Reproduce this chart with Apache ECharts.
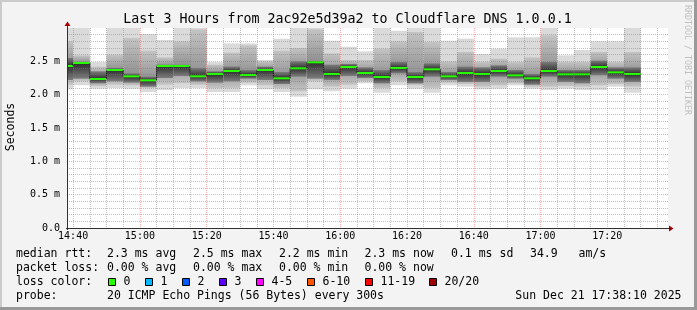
<!DOCTYPE html>
<html><head><meta charset="utf-8">
<script src="https://cdn.jsdelivr.net/npm/echarts@6/dist/echarts.min.js"></script>
<style>html,body{margin:0;padding:0;background:#f3f3f3;}#c{width:697px;height:310px;}</style>
</head><body><div id="c"></div>
<script>
// ---- data (times = end of each 5-minute step, values in ms) ----
const graphStart = "14:38:10";
const graphEnd = "17:38:10";
const colEnd = ["14:40","14:45","14:50","14:55","15:00","15:05","15:10","15:15","15:20","15:25",
  "15:30","15:35","15:40","15:45","15:50","15:55","16:00","16:05","16:10","16:15",
  "16:20","16:25","16:30","16:35","16:40","16:45","16:50","16:55","17:00","17:05",
  "17:10","17:15","17:20","17:25","17:30"];
const median = [2.43,2.475,2.235,2.37,2.275,2.215,2.43,2.43,2.275,2.31,2.355,2.295,2.37,2.245,2.395,2.485,2.31,2.415,2.325,2.265,2.40,2.265,2.38,2.275,2.325,2.31,2.355,2.29,2.245,2.355,2.305,2.305,2.415,2.335,2.31];
const pingMin = [2.08,2.14,2.09,2.10,2.09,2.04,2.07,2.10,2.10,2.04,2.04,2.14,2.08,2.04,1.97,2.08,2.05,2.09,2.17,2.03,2.14,2.09,2.03,2.14,2.12,2.08,2.09,2.14,2.09,2.07,2.09,2.07,2.07,2.12,2.03];
const midLo   = [2.15,2.20,2.13,2.15,2.14,2.10,2.15,2.17,2.15,2.10,2.10,2.18,2.14,2.10,2.05,2.20,2.12,2.15,2.20,2.10,2.20,2.14,2.10,2.18,2.16,2.12,2.14,2.17,2.12,2.12,2.13,2.12,2.14,2.16,2.12];
const darkLo  = [2.22,2.24,2.17,2.20,2.18,2.12,2.25,2.28,2.20,2.18,2.20,2.24,2.22,2.16,2.27,2.24,2.22,2.28,2.25,2.17,2.32,2.17,2.27,2.22,2.19,2.19,2.27,2.24,2.15,2.27,2.19,2.17,2.29,2.24,2.19];
const darkHi  = [2.55,2.47,2.35,2.40,2.32,2.27,2.45,2.45,2.40,2.35,2.42,2.37,2.42,2.34,2.50,2.50,2.45,2.46,2.41,2.37,2.49,2.34,2.47,2.34,2.42,2.41,2.44,2.37,2.31,2.49,2.37,2.37,2.51,2.41,2.41];
const midHi   = [2.80,2.59,2.42,2.60,2.85,2.66,2.56,2.80,2.98,2.45,2.63,2.74,2.50,2.66,2.70,2.98,2.62,2.52,2.52,2.69,2.80,2.94,2.79,2.50,2.64,2.49,2.54,2.49,2.56,2.89,2.49,2.49,2.64,2.49,2.64];
const pingMax = [3.0,3.0,2.49,3.0,3.0,2.91,2.82,3.0,3.0,2.49,2.77,2.77,2.52,2.84,3.0,3.0,2.81,2.72,2.65,3.0,2.96,3.0,3.0,2.81,2.84,2.61,2.69,2.86,2.86,3.0,2.59,2.67,2.80,2.80,3.0];
const xMajorLabels = ["14:40","15:00","15:20","15:40","16:00","16:20","16:40","17:00","17:20"];
const stepMinutes = 5;

const lossColors = ["#26ff00","#00b8ff","#0059ff","#5e00ff","#ff00fe","#ff5500","#ff0000","#a10000"];
const lossLabels = ["0","1","2","3","4-5","6-10","11-19","20/20"];

const rttLegend = ["2.3 ms avg","2.5 ms max","2.2 ms min","2.3 ms now","0.1 ms sd"];
const lossLegend = ["0.00 % avg","0.00 % max","0.00 % min","0.00 % now"];

// ---- helpers ----
function toMin(s){const p=s.split(':').map(Number);return p[0]*60+p[1]+(p[2]||0)/60;}
function fmt(m){const h=Math.floor(m/60+1e-9),mm=Math.round(m-h*60);return h+':'+String(mm).padStart(2,'0');}
const xMin = toMin(graphStart), xMax = toMin(graphEnd);
const majorVals = xMajorLabels.map(toMin);
const minorVals = [];
for (let t = toMin(colEnd[0]); t < xMax; t += stepMinutes) { if (majorVals.indexOf(t) < 0) minorVals.push(t); }

const data = colEnd.map((t,i)=>[toMin(t), pingMin[i], midLo[i], darkLo[i], darkHi[i], midHi[i], pingMax[i], median[i]]);

const FONT = 'DejaVu Sans Mono';
const chart = echarts.init(document.getElementById('c'), null, {renderer:'canvas'});

const legendY = [254.5, 268.5, 282.5, 296.5];
const colX = [107, 193, 279, 364.5, 451];
const ARROW = '#a00000';
const graphics = [
  {type:'rect', shape:{x:0,y:0,width:697,height:2}, style:{fill:'#cbcbcb'}, silent:true},
  {type:'rect', shape:{x:0,y:0,width:2,height:310}, style:{fill:'#cbcbcb'}, silent:true},
  {type:'rect', shape:{x:0,y:307,width:697,height:3}, style:{fill:'#999999'}, silent:true},
  {type:'rect', shape:{x:694,y:0,width:3,height:310}, style:{fill:'#999999'}, silent:true},
  {type:'line', z:20, shape:{x1:67.5,y1:230,x2:67.5,y2:25}, style:{stroke:'#303030', lineWidth:1}},
  {type:'line', z:20, shape:{x1:66,y1:228.5,x2:670,y2:228.5}, style:{stroke:'#303030', lineWidth:1}},
  {type:'polygon', z:21, shape:{points:[[64.5,26],[67.5,21.5],[70.5,26]]}, style:{fill:ARROW}},
  {type:'polygon', z:21, shape:{points:[[669,225.5],[673.5,228.5],[669,231.5]]}, style:{fill:ARROW}},
  {type:'text', x:347.5, y:19.5, style:{text:'Last 3 Hours from 2ac92e5d39a2 to Cloudflare DNS 1.0.0.1', font:'13.3px '+FONT, fill:'#000', align:'center', verticalAlign:'middle'}},
  {type:'text', x:687, y:60, rotation:-Math.PI/2, style:{text:'RRDTOOL / TOBI OETIKER', font:'8.3px '+FONT, fill:'#c0c0c0', align:'center', verticalAlign:'middle'}},
  {type:'text', x:11.5, y:127, rotation:Math.PI/2, style:{text:'Seconds', font:'11.5px '+FONT, fill:'#000', align:'center', verticalAlign:'middle'}},
  {type:'text', x:16, y:legendY[0], style:{text:'median rtt:', font:'11.5px '+FONT, fill:'#000', verticalAlign:'middle'}},
  {type:'text', x:16, y:legendY[1], style:{text:'packet loss:', font:'11.5px '+FONT, fill:'#000', verticalAlign:'middle'}},
  {type:'text', x:16, y:legendY[2], style:{text:'loss color:', font:'11.5px '+FONT, fill:'#000', verticalAlign:'middle'}},
  {type:'text', x:16, y:legendY[3], style:{text:'probe:', font:'11.5px '+FONT, fill:'#000', verticalAlign:'middle'}},
  {type:'text', x:107, y:legendY[3], style:{text:'20 ICMP Echo Pings (56 Bytes) every 300s', font:'11.5px '+FONT, fill:'#000', verticalAlign:'middle'}},
  {type:'text', x:681.5, y:legendY[3], style:{text:'Sun Dec 21 17:38:10 2025', font:'11.5px '+FONT, fill:'#000', align:'right', verticalAlign:'middle'}},
  {type:'text', x:530, y:legendY[0], style:{text:'34.9', font:'11.5px '+FONT, fill:'#000', verticalAlign:'middle'}},
  {type:'text', x:578.5, y:legendY[0], style:{text:'am/s', font:'11.5px '+FONT, fill:'#000', verticalAlign:'middle'}}
];
rttLegend.forEach((s,i)=>graphics.push({type:'text', x:colX[i], y:legendY[0], style:{text:s, font:'11.5px '+FONT, fill:'#000', verticalAlign:'middle'}}));
lossLegend.forEach((s,i)=>graphics.push({type:'text', x:colX[i], y:legendY[1], style:{text:s, font:'11.5px '+FONT, fill:'#000', verticalAlign:'middle'}}));
const boxX = [108.5, 145.5, 182.5, 219.5, 256.5, 307.5, 365.5, 429.5];
lossColors.forEach((c,i)=>{
  graphics.push({type:'rect', shape:{x:boxX[i], y:278.5, width:7, height:7}, style:{fill:c, stroke:'#000', lineWidth:1}});
  graphics.push({type:'text', x:boxX[i]+15, y:legendY[2], style:{text:lossLabels[i], font:'11.5px '+FONT, fill:'#000', verticalAlign:'middle'}});
});

const MINOR = 'rgba(120,120,120,0.45)';
const MAJOR = 'rgba(255,40,40,0.38)';
function grad(topVal, botVal, midVal, edge, centre){
  let f = (topVal - midVal) / (topVal - botVal);
  f = Math.max(0.02, Math.min(0.98, isFinite(f) ? f : 0.5));
  return new echarts.graphic.LinearGradient(0,0,0,1,[
    {offset:0, color:edge},{offset:f, color:centre},{offset:1, color:edge}]);
}
const option = {
  backgroundColor:'#f3f3f3',
  animation:false,
  grid:{left:67, right:29, top:28, bottom:82, show:true, backgroundColor:'#ffffff', borderWidth:0},
  xAxis:[{
    type:'value', min:xMin, max:xMax, gridIndex:0, position:'bottom', z:10,
    axisLine:{show:false, onZero:false},
    axisTick:{show:false, customValues:majorVals},
    axisLabel:{show:true, customValues:majorVals, formatter:v=>fmt(v), color:'#000', fontFamily:FONT, fontSize:10, margin:3},
    splitLine:{show:true, lineStyle:{color:MAJOR, type:[1,1], width:1}}
  },{
    type:'value', min:xMin, max:xMax, gridIndex:0, position:'top', z:9,
    axisLine:{show:false}, axisTick:{show:false, customValues:minorVals}, axisLabel:{show:false, customValues:minorVals},
    splitLine:{show:true, lineStyle:{color:MINOR, type:[1,1], width:1}}
  }],
  yAxis:{
    type:'value', min:0, max:3.0, interval:0.5, z:10,
    axisLine:{show:false},
    axisTick:{show:false},
    axisLabel:{color:'#000', fontFamily:FONT, fontSize:10, margin:7, showMaxLabel:false, formatter:v=>v===0?'0.0':v.toFixed(1)+' m'},
    splitLine:{show:true, showMaxLine:false, lineStyle:{color:MAJOR, type:[1,1], width:1}},
    minorTick:{show:false, splitNumber:5},
    minorSplitLine:{show:true, lineStyle:{color:MINOR, type:[1,1], width:1}}
  },
  graphic:graphics,
  series:[{
    type:'custom', xAxisIndex:0, yAxisIndex:0, clip:true, z:2,
    data:data,
    renderItem:function(params, api){
      const cs = params.coordSys;
      const tEnd = api.value(0);
      const x0 = Math.max(api.coord([tEnd-stepMinutes,0])[0], cs.x);
      const x1 = api.coord([tEnd,0])[0];
      const Y = v=>api.coord([tEnd, Math.min(v,3.0)])[1];
      const med = api.value(7);
      const band = (lo,hi,fill)=>({type:'rect', shape:{x:x0, y:Y(hi), width:x1-x0, height:Y(lo)-Y(hi)}, style:{fill:fill}});
      const ch = [
        band(api.value(1), api.value(6), '#dadada'),
        band(api.value(2), api.value(5), grad(api.value(5), api.value(2), med, '#c4c4c4', '#8e8e8e')),
        band(api.value(3), api.value(4), grad(api.value(4), api.value(3), med, '#7c7c7c', '#2e2e2e'))
      ];
      const idx = params.dataIndex;
      const ym = Y(med);
      if (idx>0){
        const yp = Y(median[idx-1]);
        ch.push({type:'line', shape:{x1:x0, y1:yp, x2:x0, y2:ym}, style:{stroke:'#202020', lineWidth:1}});
      }
      ch.push({type:'rect', shape:{x:x0, y:ym-1, width:x1-x0, height:2}, style:{fill:lossColors[0]}});
      return {type:'group', children:ch};
    }
  }]
};
chart.setOption(option);
</script></body></html>
